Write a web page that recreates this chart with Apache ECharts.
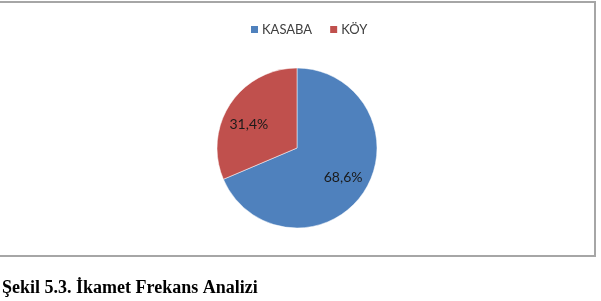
<!DOCTYPE html>
<html><head><meta charset="utf-8">
<script src="https://cdn.jsdelivr.net/npm/echarts@6/dist/echarts.min.js"></script>
<style>html,body{margin:0;padding:0;background:#fff}#c{width:601px;height:301px}</style>
</head><body><div id="c"></div>
<script>
var categories = ['KASABA', 'KÖY'];
var values = [68.6, 31.4];
var colors = ['#4f81bd', '#c0504d'];
var caption = 'Şekil 5.3. İkamet Frekans Analizi';

function fmt(p){ return p.value.toFixed(1).replace('.', ',') + '%'; }
var pieData = categories.map(function(c, i){ return {name: c, value: values[i], itemStyle: {color: colors[i]}}; });
var labelOffsets = [[-1, -2], [-1, 8]];

var chart = echarts.init(document.getElementById('c'), null, {renderer: 'canvas'});
chart.setOption({
  animation: false,
  backgroundColor: '#fff',
  title: {
    text: caption,
    left: -3, top: 274,
    textStyle: {fontFamily: 'Liberation Serif', fontWeight: 'bold', fontSize: 18, color: '#000'}
  },
  legend: {
    data: categories.map(function(c, i){ return {name: c, itemStyle: {color: colors[i]}}; }),
    top: 18, left: 244,
    itemWidth: 9, itemHeight: 9, itemGap: 16,
    icon: 'rect',
    textStyle: {fontFamily: 'Lato', fontSize: 13, color: '#404040', padding: [0,0,0,-2]}
  },
  graphic: [{
    type: 'rect',
    shape: {x: -5, y: 2, width: 600, height: 254},
    style: {fill: 'none', stroke: '#a6a6a6', lineWidth: 2},
    z: -1
  }],
  series: [{
    type: 'pie',
    center: [297, 148],
    radius: 80,
    startAngle: 90,
    clockwise: true,
    itemStyle: {borderColor: '#ffffff', borderWidth: 0.5},
    label: {show: false},
    labelLine: {show: false},
    data: pieData
  }, {
    type: 'pie',
    center: [297, 148],
    radius: [27, 80],
    startAngle: 90,
    clockwise: true,
    silent: true,
    itemStyle: {color: 'rgba(0,0,0,0)', borderWidth: 0},
    label: {
      position: 'inside',
      formatter: fmt,
      fontFamily: 'Lato', fontSize: 14, color: '#1a1a1a'
    },
    labelLine: {show: false},
    data: categories.map(function(c, i){ return {name: c, value: values[i], label: {offset: labelOffsets[i]}}; })
  }]
});
</script></body></html>
